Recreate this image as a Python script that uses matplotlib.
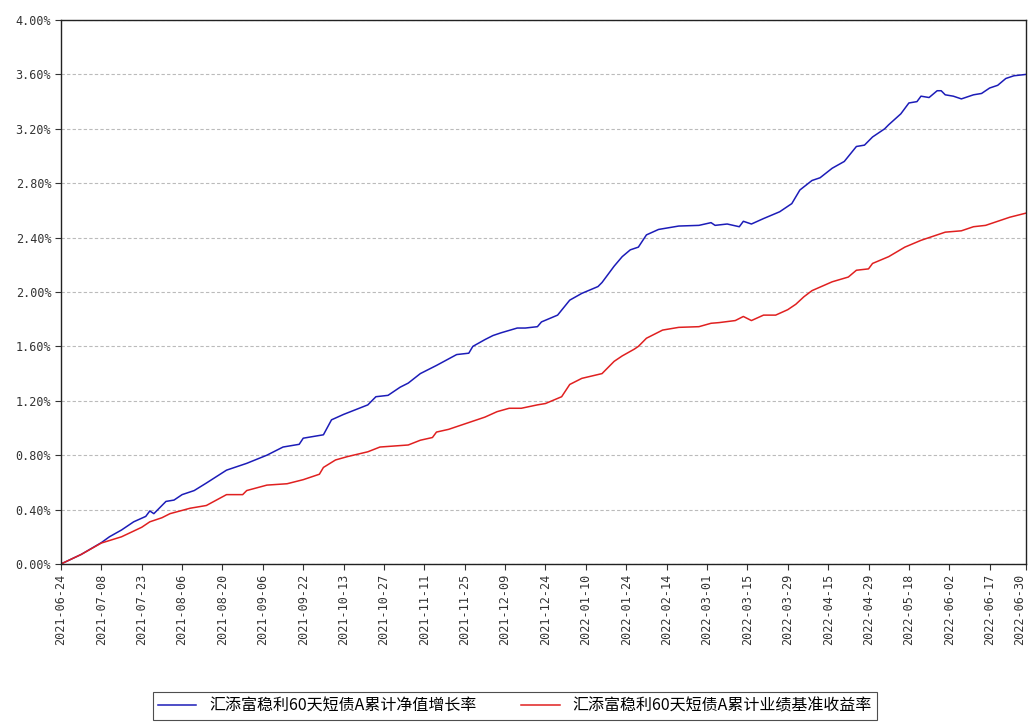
import matplotlib
matplotlib.use("Agg")
import matplotlib.pyplot as plt

# trading-day index (0 = 2021-06-24, 239 = 2022-06-30) and values in %
fund_idx = [0, 5, 10, 12, 15, 18, 21, 22, 23, 26, 28, 30, 33, 36, 41, 46, 51, 55, 59, 60,
            65, 67, 70, 76, 78, 81, 84, 86, 89, 93, 98, 101, 102, 105, 107, 109, 113, 115,
            118, 119, 123, 126, 129, 133, 134, 137, 139, 141, 143, 145, 148, 153, 158, 161,
            162, 165, 168, 169, 171, 174, 178, 181, 183, 186, 188, 191, 194, 197, 199, 201,
            204, 205, 208, 210, 212, 213, 215, 217, 218, 219, 221, 223, 226, 228, 230, 232,
            234, 236, 239]
fund_val = [0.00, 0.07, 0.157, 0.20, 0.25, 0.31, 0.35, 0.39, 0.37, 0.46, 0.47, 0.51, 0.54,
            0.595, 0.69, 0.74, 0.80, 0.86, 0.88, 0.925, 0.95, 1.06, 1.10, 1.17, 1.23, 1.24,
            1.30, 1.33, 1.40, 1.46, 1.54, 1.55, 1.60, 1.65, 1.68, 1.70, 1.735, 1.735, 1.745,
            1.78, 1.83, 1.94, 1.99, 2.04, 2.07, 2.19, 2.26, 2.31, 2.33, 2.42, 2.46, 2.485,
            2.49, 2.51, 2.49, 2.50, 2.48, 2.52, 2.50, 2.54, 2.59, 2.65, 2.75, 2.82, 2.84,
            2.91, 2.96, 3.07, 3.08, 3.14, 3.20, 3.23, 3.31, 3.39, 3.40, 3.44, 3.43, 3.48,
            3.48, 3.45, 3.44, 3.42, 3.45, 3.46, 3.50, 3.52, 3.57, 3.59, 3.60]

bench_idx = [0, 5, 10, 15, 20, 22, 25, 27, 32, 36, 41, 45, 46, 51, 56, 60, 64, 65, 68, 71,
             76, 79, 86, 89, 92, 93, 96, 100, 103, 105, 108, 111, 114, 118, 120, 124, 126,
             129, 134, 137, 139, 142, 143, 145, 149, 153, 158, 161, 163, 167, 169, 171, 174,
             177, 180, 182, 184, 186, 191, 195, 197, 200, 201, 205, 209, 213, 216, 219, 223,
             226, 229, 232, 235, 239]
bench_val = [0.00, 0.07, 0.154, 0.20, 0.27, 0.31, 0.34, 0.37, 0.41, 0.43, 0.51, 0.51, 0.54,
             0.58, 0.59, 0.62, 0.66, 0.71, 0.765, 0.79, 0.825, 0.86, 0.875, 0.91, 0.93, 0.97,
             0.99, 1.03, 1.06, 1.08, 1.12, 1.145, 1.145, 1.17, 1.18, 1.23, 1.32, 1.365, 1.40,
             1.49, 1.53, 1.58, 1.60, 1.66, 1.72, 1.74, 1.745, 1.77, 1.775, 1.79, 1.82, 1.79,
             1.83, 1.83, 1.87, 1.91, 1.965, 2.01, 2.075, 2.11, 2.16, 2.17, 2.21, 2.26, 2.33,
             2.38, 2.41, 2.44, 2.45, 2.48, 2.49, 2.52, 2.55, 2.58]

tick_idx = [0, 10, 20, 30, 40, 50, 60, 70, 80, 90, 100, 110, 120, 130, 140, 150, 160, 170,
            180, 190, 200, 210, 220, 230, 239]
tick_labels = ['2021-06-24', '2021-07-08', '2021-07-23', '2021-08-06', '2021-08-20',
               '2021-09-06', '2021-09-22', '2021-10-13', '2021-10-27', '2021-11-11',
               '2021-11-25', '2021-12-09', '2021-12-24', '2022-01-10', '2022-01-24',
               '2022-02-14', '2022-03-01', '2022-03-15', '2022-03-29', '2022-04-15',
               '2022-04-29', '2022-05-18', '2022-06-02', '2022-06-17', '2022-06-30']
y_ticks = [0.0, 0.4, 0.8, 1.2, 1.6, 2.0, 2.4, 2.8, 3.2, 3.6, 4.0]

names = ['汇添富稳利60天短债A累计净值增长率', '汇添富稳利60天短债A累计业绩基准收益率']

plt.rcParams['font.family'] = ['Noto Sans CJK SC', 'DejaVu Sans']

fig = plt.figure(figsize=(10.3, 7.28), dpi=100)
ax = fig.add_axes([0.0592, 0.2253, 0.9369, 0.7472])

ax.plot(fund_idx, fund_val, color='#1c1cb8', lw=1.1, label=names[0])
ax.plot(bench_idx, bench_val, color='#e02020', lw=1.1, label=names[1])

ax.set_xlim(0, 239)
ax.set_ylim(0, 4.0)
ax.set_yticks(y_ticks)
ax.set_yticklabels(['%.2f%%' % v for v in y_ticks], family='DejaVu Sans Mono', fontsize=8.5)
ax.set_xticks(tick_idx)
ax.set_xticklabels(tick_labels, rotation=90, family='DejaVu Sans Mono', fontsize=8.5)
ax.tick_params(direction='out', length=4, width=0.8, pad=3, colors='#333333')
# keep the last date inside the picture
ax.get_xticklabels()[-1].set_horizontalalignment('right')
ax.yaxis.grid(True, linestyle=(0, (3, 2)), color='#bbbbbb', lw=0.8)
ax.set_axisbelow(True)
for s in ax.spines.values():
    s.set_color('#222222')
    s.set_linewidth(1.0)

leg = fig.legend(loc='lower center', bbox_to_anchor=(0.5, 0.0), ncol=2, fontsize=11.5,
                 frameon=True, fancybox=False, edgecolor='#222222', handlelength=2.4,
                 columnspacing=2.8, borderpad=0.35)
leg.get_frame().set_linewidth(0.8)

fig.savefig('out.png', dpi=100)
